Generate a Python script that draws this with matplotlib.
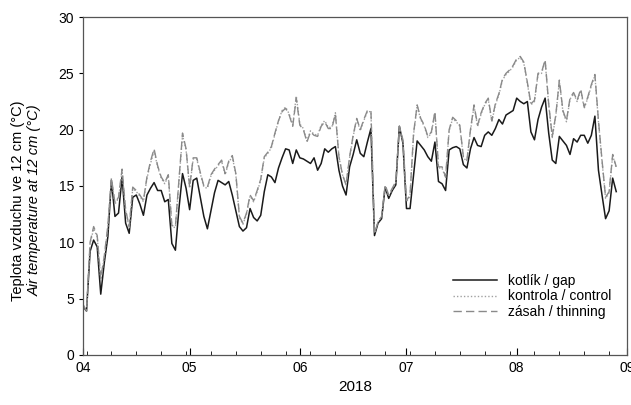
import numpy as np
import pandas as pd
import matplotlib
matplotlib.use("Agg")
import matplotlib.pyplot as plt
import matplotlib.dates as mdates

plt.rcParams['font.family'] = ['Liberation Sans', 'DejaVu Sans']

# daily means, starting 1 April 2018
start_date = "2018-04-01"

gap = [4.3, 3.9, 9.2, 10.2, 9.6, 5.4, 8.2, 10.5, 15.5, 12.3,
       12.6, 15.8, 11.7, 10.8, 14.0, 14.2, 13.4, 12.4, 14.2, 14.8,
       15.3, 14.6, 14.6, 13.6, 13.8, 9.9, 9.3, 13.0, 16.1, 14.8,
       12.9, 15.5, 15.7, 14.0, 12.3, 11.2, 12.8, 14.4, 15.5, 15.3,
       15.1, 15.4, 14.2, 12.8, 11.4, 11.0, 11.3, 13.0, 12.2, 11.9,
       12.4, 14.5, 16.0, 15.8, 15.3, 16.6, 17.5, 18.3, 18.2, 17.0,
       18.2, 17.5, 17.4, 17.2, 17.0, 17.5, 16.4, 17.0, 18.3, 18.0,
       18.3, 18.5, 16.4, 15.0, 14.2, 16.7, 17.8, 19.1, 17.9, 17.6,
       18.9, 20.1, 10.6, 11.7, 12.1, 14.9, 13.9, 14.6, 15.1, 20.3,
       18.8, 13.0, 13.0, 16.0, 19.0, 18.6, 18.2, 17.6, 17.2, 18.9,
       15.4, 15.2, 14.6, 18.2, 18.4, 18.5, 18.3, 16.9, 16.6, 18.3,
       19.3, 18.6, 18.5, 19.5, 19.8, 19.5, 20.1, 20.9, 20.5, 21.3,
       21.5, 21.7, 22.8, 22.5, 22.3, 22.5, 19.8, 19.1, 20.9, 22.0,
       22.8, 19.7, 17.3, 17.0, 19.4, 19.0, 18.6, 17.8, 19.2, 18.9,
       19.5, 19.5, 18.8, 19.5, 21.2, 16.4, 14.2, 12.1, 12.8, 15.7,
       14.5]

control = [4.4, 3.9, 9.9, 11.2, 10.5, 6.7, 8.7, 11.3, 15.6, 13.4,
           13.9, 16.3, 12.8, 11.3, 14.8, 14.5, 14.1, 13.6, 15.7, 17.0,
           18.1, 16.7, 15.7, 15.2, 15.9, 11.4, 11.3, 15.4, 19.5, 18.2,
           14.8, 17.4, 17.4, 16.1, 14.9, 14.8, 15.9, 16.4, 16.8, 17.2,
           16.0, 17.1, 17.6, 16.0, 12.2, 11.6, 12.5, 14.1, 13.6, 14.5,
           15.5, 17.5, 17.9, 18.4, 19.6, 20.8, 21.7, 22.0, 21.4, 20.4,
           23.0, 20.5, 20.1, 19.0, 19.9, 19.6, 19.5, 20.4, 20.8, 20.2,
           20.2, 21.5, 17.6, 16.0, 15.1, 17.5, 19.4, 20.9, 19.9, 20.8,
           21.6, 21.6, 10.8, 11.8, 12.3, 15.0, 14.1, 14.7, 15.3, 20.2,
           19.0, 13.6, 14.1, 19.6, 22.1, 20.9, 20.3, 19.3, 19.7, 21.5,
           16.6, 16.6, 15.7, 19.9, 21.0, 20.7, 20.3, 17.5, 17.2, 19.9,
           22.1, 20.3, 21.4, 22.2, 22.7, 20.7, 22.2, 23.1, 24.4, 24.9,
           25.2, 25.6, 26.2, 26.4, 25.9, 24.1, 22.2, 22.5, 24.9, 25.0,
           26.1, 22.2, 19.3, 21.2, 24.3, 21.6, 20.7, 22.7, 23.2, 22.5,
           23.5, 21.9, 22.8, 23.9, 24.8, 20.7, 17.2, 13.9, 14.4, 17.7,
           16.6]

thinning = [4.5, 3.9, 10.0, 11.4, 10.6, 6.8, 8.8, 11.5, 15.7, 13.5,
            14.0, 16.5, 12.9, 11.4, 14.9, 14.6, 14.2, 13.7, 15.8, 17.2,
            18.3, 16.8, 15.8, 15.3, 16.0, 11.5, 11.4, 15.5, 19.7, 18.3,
            14.9, 17.5, 17.5, 16.2, 15.0, 14.9, 16.0, 16.5, 16.9, 17.3,
            16.1, 17.2, 17.7, 16.1, 12.3, 11.7, 12.6, 14.2, 13.7, 14.6,
            15.6, 17.6, 18.0, 18.5, 19.7, 20.8, 21.6, 21.9, 21.3, 20.3,
            22.8, 20.4, 20.0, 18.9, 19.8, 19.5, 19.4, 20.3, 20.7, 20.1,
            20.1, 21.4, 17.6, 16.0, 15.1, 17.6, 19.5, 21.0, 20.0, 20.9,
            21.7, 21.7, 10.8, 11.8, 12.3, 15.1, 14.2, 14.8, 15.4, 20.3,
            19.1, 13.7, 14.2, 19.7, 22.2, 21.0, 20.4, 19.4, 19.8, 21.6,
            16.7, 16.7, 15.8, 20.0, 21.1, 20.8, 20.4, 17.6, 17.3, 20.0,
            22.2, 20.4, 21.5, 22.3, 22.8, 20.8, 22.3, 23.2, 24.5, 25.0,
            25.3, 25.7, 26.3, 26.5, 26.0, 24.2, 22.3, 22.6, 25.0, 25.1,
            26.2, 22.3, 19.4, 21.3, 24.4, 21.7, 20.8, 22.8, 23.3, 22.6,
            23.6, 22.0, 22.9, 24.0, 24.9, 20.8, 17.3, 14.0, 14.5, 17.8,
            16.7]

labels = ["kotlík / gap", "kontrola / control", "zásah / thinning"]

dates = pd.date_range(start_date, periods=len(gap), freq="D")

fig = plt.figure(figsize=(6.31, 4.05), dpi=100)
ax = fig.add_axes([0.1315, 0.1235, 0.862, 0.8345])

ax.plot(dates, gap, color="#1a1a1a", lw=1.1, ls="-", label=labels[0])
ax.plot(dates, control, color="#a0a0a0", lw=1.0, ls=(0, (1, 1.5)), label=labels[1])
ax.plot(dates, thinning, color="#8a8a8a", lw=1.0, ls=(0, (6, 3)), label=labels[2])

ax.set_xlim(pd.Timestamp("2018-04-01"), pd.Timestamp("2018-09-01"))
ax.set_ylim(0, 30)
ax.set_yticks(range(0, 31, 5))

ax.xaxis.set_major_locator(mdates.MonthLocator())
ax.xaxis.set_major_formatter(mdates.DateFormatter("%m"))
ax.xaxis.set_minor_locator(mdates.WeekdayLocator(byweekday=mdates.MO))
ax.tick_params(axis="x", which="major", direction="in", length=5, labelsize=10, pad=4)
ax.tick_params(axis="x", which="minor", direction="in", length=3)
ax.tick_params(axis="y", direction="out", length=3, labelsize=10)

for s in ax.spines.values():
    s.set_color("#555555")
    s.set_linewidth(0.9)

ax.set_xlabel("2018", fontsize=11, labelpad=4)

# two-line y label, second line in italics
fig.text(0.028, 0.505, "Teplota vzduchu ve 12 cm (°C)", rotation=90,
         ha="center", va="center", fontsize=10.5)
fig.text(0.055, 0.505, "Air temperature at 12 cm (°C)", rotation=90,
         ha="center", va="center", fontsize=10.5, style="italic")

leg = ax.legend(loc="lower right", bbox_to_anchor=(0.995, 0.07), frameon=False,
                fontsize=10, handlelength=3.2, labelspacing=0.1)

fig.savefig("out.png", dpi=100)
